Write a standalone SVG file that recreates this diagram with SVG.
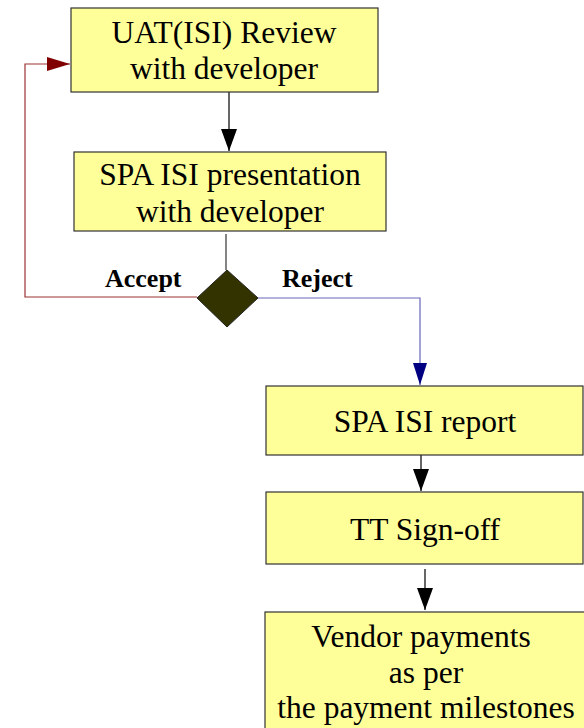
<svg xmlns="http://www.w3.org/2000/svg" width="584" height="728" viewBox="0 0 584 728">
<defs>
<style>
.box{fill:#ffff99;stroke:#333333;stroke-width:1.2}
.t{font-family:"Liberation Serif",serif;font-size:31.5px;fill:#000;text-anchor:middle}
.lbl{font-family:"Liberation Serif",serif;font-size:26px;font-weight:bold;fill:#000}
.c{fill:none;stroke-width:1.2}
</style>
<marker id="ab" viewBox="0 0 10 10" refX="10" refY="5" markerWidth="22" markerHeight="16" markerUnits="userSpaceOnUse" orient="auto" preserveAspectRatio="none"><path d="M0,0 L10,5 L0,10 Z" fill="#000"/></marker>
<marker id="ar" viewBox="0 0 10 10" refX="10" refY="5" markerWidth="23" markerHeight="14" markerUnits="userSpaceOnUse" orient="auto" preserveAspectRatio="none"><path d="M0,0 L10,5 L0,10 Z" fill="#800000"/></marker>
<marker id="an" viewBox="0 0 10 10" refX="10" refY="5" markerWidth="22" markerHeight="14" markerUnits="userSpaceOnUse" orient="auto" preserveAspectRatio="none"><path d="M0,0 L10,5 L0,10 Z" fill="#000080"/></marker>
</defs>
<g id="connectors">
<line class="c" x1="229" y1="92" x2="229" y2="151" stroke="#000" marker-end="url(#ab)"/>
<line class="c" x1="226" y1="234" x2="226" y2="270" stroke="#333"/>
<polyline class="c" points="197,297 25,297 25,64 70,64" stroke="#993333" marker-end="url(#ar)"/>
<polyline class="c" points="258,298 420,298 420,385" stroke="#6666bb" marker-end="url(#an)"/>
<line class="c" x1="421" y1="455" x2="421" y2="491" stroke="#000" marker-end="url(#ab)"/>
<line class="c" x1="425" y1="569" x2="425" y2="610" stroke="#000" marker-end="url(#ab)"/>
<text class="lbl" x="105" y="287">Accept</text>
<text class="lbl" x="282" y="287">Reject</text>
</g>
<g id="n1">
<rect class="box" x="71" y="8" width="307" height="84"/>
<text class="t" x="224" y="43">UAT(ISI) Review</text>
<text class="t" x="224" y="79">with developer</text>
</g>
<g id="n2">
<rect class="box" x="74" y="152" width="312" height="79"/>
<text class="t" x="230" y="185">SPA ISI presentation</text>
<text class="t" x="230" y="222">with developer</text>
</g>
<g id="decision">
<polygon points="227,270 258,298 227,327 197,298" fill="#333300" stroke="#222" stroke-width="1"/>
</g>
<g id="n3">
<rect class="box" x="266" y="386" width="317" height="69"/>
<text class="t" x="425" y="432">SPA ISI report</text>
</g>
<g id="n4">
<rect class="box" x="266" y="492" width="317" height="72"/>
<text class="t" x="425" y="540">TT Sign-off</text>
</g>
<g id="n5">
<rect class="box" x="265" y="612" width="330" height="130"/>
<text class="t" x="421" y="647">Vendor payments</text>
<text class="t" x="426" y="683">as per</text>
<text class="t" x="426" y="718">the payment milestones</text>
</g>
</svg>
